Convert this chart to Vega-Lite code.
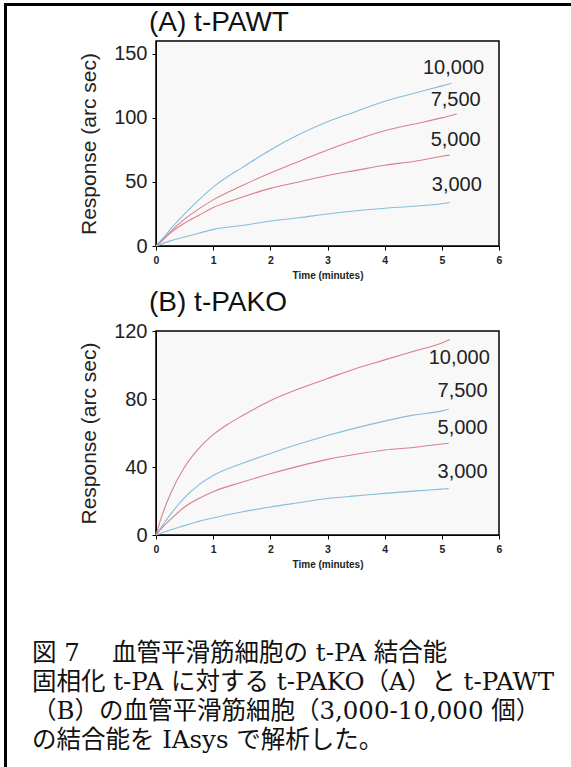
{
  "$schema": "https://vega.github.io/schema/vega-lite/v6.json",
  "padding": {"left": 4, "top": 3, "right": 0, "bottom": 0},
  "background": "white",
  "spacing": 0,
  "config": {
    "font": "Liberation Sans",
    "view": {"stroke": "black", "strokeWidth": 1.5},
    "axis": {"grid": false, "domainColor": "black", "tickColor": "black", "labelColor": "#222", "titleColor": "#222", "labelOverlap": false, "labelFlush": false}
  },
  "datasets": {
    "curves": [
      {"panel":"A","cells":"10,000","t":0,"v":0},{"panel":"A","cells":"10,000","t":0.1,"v":5},{"panel":"A","cells":"10,000","t":0.25,"v":13},{"panel":"A","cells":"10,000","t":0.5,"v":25},{"panel":"A","cells":"10,000","t":0.75,"v":36},{"panel":"A","cells":"10,000","t":1,"v":46},{"panel":"A","cells":"10,000","t":1.25,"v":54},{"panel":"A","cells":"10,000","t":1.5,"v":61},{"panel":"A","cells":"10,000","t":2,"v":75},{"panel":"A","cells":"10,000","t":2.5,"v":87},{"panel":"A","cells":"10,000","t":3,"v":97},{"panel":"A","cells":"10,000","t":3.5,"v":105},{"panel":"A","cells":"10,000","t":4,"v":113},{"panel":"A","cells":"10,000","t":4.5,"v":119},{"panel":"A","cells":"10,000","t":5,"v":125},{"panel":"A","cells":"10,000","t":5.17,"v":127},
      {"panel":"A","cells":"7,500","t":0,"v":0},{"panel":"A","cells":"7,500","t":0.1,"v":4},{"panel":"A","cells":"7,500","t":0.25,"v":11},{"panel":"A","cells":"7,500","t":0.5,"v":21},{"panel":"A","cells":"7,500","t":0.75,"v":29},{"panel":"A","cells":"7,500","t":1,"v":36},{"panel":"A","cells":"7,500","t":1.5,"v":47},{"panel":"A","cells":"7,500","t":2,"v":57},{"panel":"A","cells":"7,500","t":2.5,"v":66},{"panel":"A","cells":"7,500","t":3,"v":75},{"panel":"A","cells":"7,500","t":3.5,"v":83},{"panel":"A","cells":"7,500","t":4,"v":90},{"panel":"A","cells":"7,500","t":4.5,"v":95},{"panel":"A","cells":"7,500","t":5,"v":100},{"panel":"A","cells":"7,500","t":5.26,"v":103},
      {"panel":"A","cells":"5,000","t":0,"v":0},{"panel":"A","cells":"5,000","t":0.1,"v":4},{"panel":"A","cells":"5,000","t":0.25,"v":10},{"panel":"A","cells":"5,000","t":0.5,"v":18},{"panel":"A","cells":"5,000","t":0.75,"v":24},{"panel":"A","cells":"5,000","t":1,"v":30},{"panel":"A","cells":"5,000","t":1.5,"v":38},{"panel":"A","cells":"5,000","t":2,"v":45},{"panel":"A","cells":"5,000","t":2.5,"v":50},{"panel":"A","cells":"5,000","t":3,"v":55},{"panel":"A","cells":"5,000","t":3.5,"v":59},{"panel":"A","cells":"5,000","t":4,"v":63},{"panel":"A","cells":"5,000","t":4.5,"v":66},{"panel":"A","cells":"5,000","t":5,"v":70},{"panel":"A","cells":"5,000","t":5.14,"v":71},
      {"panel":"A","cells":"3,000","t":0,"v":0},{"panel":"A","cells":"3,000","t":0.25,"v":4},{"panel":"A","cells":"3,000","t":0.5,"v":7},{"panel":"A","cells":"3,000","t":0.75,"v":10},{"panel":"A","cells":"3,000","t":1,"v":13},{"panel":"A","cells":"3,000","t":1.5,"v":16},{"panel":"A","cells":"3,000","t":2,"v":19.5},{"panel":"A","cells":"3,000","t":2.5,"v":22},{"panel":"A","cells":"3,000","t":3,"v":25},{"panel":"A","cells":"3,000","t":3.5,"v":27.5},{"panel":"A","cells":"3,000","t":4,"v":29.5},{"panel":"A","cells":"3,000","t":4.5,"v":31},{"panel":"A","cells":"3,000","t":5,"v":33},{"panel":"A","cells":"3,000","t":5.14,"v":34},
      {"panel":"B","cells":"10,000","t":0,"v":0},{"panel":"B","cells":"10,000","t":0.1,"v":11},{"panel":"B","cells":"10,000","t":0.25,"v":24},{"panel":"B","cells":"10,000","t":0.5,"v":40},{"panel":"B","cells":"10,000","t":0.75,"v":51},{"panel":"B","cells":"10,000","t":1,"v":59},{"panel":"B","cells":"10,000","t":1.25,"v":65},{"panel":"B","cells":"10,000","t":1.5,"v":70},{"panel":"B","cells":"10,000","t":2,"v":79},{"panel":"B","cells":"10,000","t":2.5,"v":86},{"panel":"B","cells":"10,000","t":3,"v":92},{"panel":"B","cells":"10,000","t":3.5,"v":98},{"panel":"B","cells":"10,000","t":4,"v":103},{"panel":"B","cells":"10,000","t":4.5,"v":108},{"panel":"B","cells":"10,000","t":5,"v":113},{"panel":"B","cells":"10,000","t":5.14,"v":115},
      {"panel":"B","cells":"7,500","t":0,"v":0},{"panel":"B","cells":"7,500","t":0.1,"v":5},{"panel":"B","cells":"7,500","t":0.25,"v":12},{"panel":"B","cells":"7,500","t":0.5,"v":22},{"panel":"B","cells":"7,500","t":0.75,"v":29.5},{"panel":"B","cells":"7,500","t":1,"v":35},{"panel":"B","cells":"7,500","t":1.5,"v":42},{"panel":"B","cells":"7,500","t":2,"v":48},{"panel":"B","cells":"7,500","t":2.5,"v":53.5},{"panel":"B","cells":"7,500","t":3,"v":58.5},{"panel":"B","cells":"7,500","t":3.5,"v":63},{"panel":"B","cells":"7,500","t":4,"v":67},{"panel":"B","cells":"7,500","t":4.5,"v":70.5},{"panel":"B","cells":"7,500","t":5,"v":73},{"panel":"B","cells":"7,500","t":5.12,"v":74},
      {"panel":"B","cells":"5,000","t":0,"v":0},{"panel":"B","cells":"5,000","t":0.1,"v":4},{"panel":"B","cells":"5,000","t":0.25,"v":9},{"panel":"B","cells":"5,000","t":0.5,"v":16.5},{"panel":"B","cells":"5,000","t":0.75,"v":21.5},{"panel":"B","cells":"5,000","t":1,"v":25.5},{"panel":"B","cells":"5,000","t":1.5,"v":31},{"panel":"B","cells":"5,000","t":2,"v":36},{"panel":"B","cells":"5,000","t":2.5,"v":40.5},{"panel":"B","cells":"5,000","t":3,"v":44.5},{"panel":"B","cells":"5,000","t":3.5,"v":47.5},{"panel":"B","cells":"5,000","t":4,"v":50},{"panel":"B","cells":"5,000","t":4.5,"v":51.5},{"panel":"B","cells":"5,000","t":5,"v":53.5},{"panel":"B","cells":"5,000","t":5.12,"v":54},
      {"panel":"B","cells":"3,000","t":0,"v":0},{"panel":"B","cells":"3,000","t":0.25,"v":3},{"panel":"B","cells":"3,000","t":0.5,"v":5.5},{"panel":"B","cells":"3,000","t":0.75,"v":8},{"panel":"B","cells":"3,000","t":1,"v":10},{"panel":"B","cells":"3,000","t":1.5,"v":13.5},{"panel":"B","cells":"3,000","t":2,"v":16.5},{"panel":"B","cells":"3,000","t":2.5,"v":19},{"panel":"B","cells":"3,000","t":3,"v":21.5},{"panel":"B","cells":"3,000","t":3.5,"v":23},{"panel":"B","cells":"3,000","t":4,"v":24.5},{"panel":"B","cells":"3,000","t":4.5,"v":25.8},{"panel":"B","cells":"3,000","t":5,"v":27},{"panel":"B","cells":"3,000","t":5.12,"v":27.3}
    ],
    "labels": [
      {"panel":"A","cells":"10,000","t":5.74,"v":139},{"panel":"A","cells":"7,500","t":5.68,"v":114},{"panel":"A","cells":"5,000","t":5.68,"v":83},{"panel":"A","cells":"3,000","t":5.7,"v":48},
      {"panel":"B","cells":"10,000","t":5.84,"v":104},{"panel":"B","cells":"7,500","t":5.8,"v":85},{"panel":"B","cells":"5,000","t":5.8,"v":63},{"panel":"B","cells":"3,000","t":5.8,"v":37}
    ]
  },
  "vconcat": [
    {"width": 620, "height": 1, "data": {"values": []}, "mark": "point", "view": {"stroke": "black", "strokeWidth": 2}},
    {
      "spacing": 24,
      "hconcat": [
        {"width": 1, "height": 820, "data": {"values": []}, "mark": "point", "view": {"stroke": "black", "strokeWidth": 2}},
        {
          "spacing": 0,
          "resolve": {"scale": {"color": "independent"}},
          "title": {
            "text": ["図 7　 血管平滑筋細胞の t-PA 結合能", "固相化 t-PA に対する t-PAKO（A）と t-PAWT", "（B）の血管平滑筋細胞（3,000-10,000 個）", "の結合能を IAsys で解析した。"],
            "orient": "bottom", "anchor": "start", "font": "DejaVu Serif, Noto Sans CJK JP", "fontSize": 24.5, "fontWeight": "normal", "lineHeight": 29, "offset": 72, "dx": -46, "color": "#111"
          },
          "vconcat": [
            {"width": 10, "height": 1, "data": {"values": []}, "mark": "point", "view": {"stroke": null}},
            {
              "width": 343, "height": 205,
              "view": {"fill": "#f8f8f8"},
              "title": {"text": "(A) t-PAWT", "anchor": "start", "frame": "group", "fontSize": 28, "fontWeight": "normal", "dx": -7, "offset": 4, "color": "#111"},
              "layer": [
                {
                  "data": {"name": "curves"},
                  "transform": [{"filter": "datum.panel === 'A'"}],
                  "mark": {"type": "line", "strokeWidth": 1.1, "interpolate": "monotone"},
                  "encoding": {
                    "x": {"field": "t", "type": "quantitative", "scale": {"domain": [0, 6]},
                      "axis": {"title": "Time (minutes)", "values": [0,0.5,1,1.5,2,2.5,3,3.5,4,4.5,5,5.5,6], "labelExpr": "datum.value % 1 === 0 ? '' + datum.value : ''", "labelFontWeight": "bold", "labelFontSize": 10.5, "titleFontSize": 10, "titleFontWeight": "bold", "tickSize": 4, "labelPadding": 5, "titlePadding": 5}},
                    "y": {"field": "v", "type": "quantitative", "scale": {"domain": [0, 150]},
                      "axis": {"title": "Response (arc sec)", "values": [0,12.5,25,37.5,50,62.5,75,87.5,100,112.5,125,137.5,150], "labelExpr": "datum.value % 50 === 0 ? datum.label : ''", "labelFontSize": 20, "titleFontSize": 21, "titleFontWeight": "normal", "tickSize": 4, "labelPadding": 5, "titlePadding": 14}},
                    "color": {"field": "cells", "type": "nominal", "scale": {"domain": ["10,000","7,500","5,000","3,000"], "range": ["#86bedb","#d9808c","#d9808c","#86bedb"]}, "legend": null}
                  }
                },
                {
                  "data": {"name": "labels"},
                  "transform": [{"filter": "datum.panel === 'A'"}],
                  "mark": {"type": "text", "align": "right", "baseline": "middle", "fontSize": 20, "color": "#222"},
                  "encoding": {
                    "x": {"field": "t", "type": "quantitative"},
                    "y": {"field": "v", "type": "quantitative"},
                    "text": {"field": "cells"}
                  }
                }
              ]
            },
            {"width": 10, "height": 6, "data": {"values": []}, "mark": "point", "view": {"stroke": null}},
            {
              "width": 343, "height": 204,
              "view": {"fill": "#f8f8f8"},
              "title": {"text": "(B) t-PAKO", "anchor": "start", "frame": "group", "fontSize": 28, "fontWeight": "normal", "dx": -7, "offset": 4, "color": "#111"},
              "layer": [
                {
                  "data": {"name": "curves"},
                  "transform": [{"filter": "datum.panel === 'B'"}],
                  "mark": {"type": "line", "strokeWidth": 1.1, "interpolate": "monotone"},
                  "encoding": {
                    "x": {"field": "t", "type": "quantitative", "scale": {"domain": [0, 6]},
                      "axis": {"title": "Time (minutes)", "values": [0,0.5,1,1.5,2,2.5,3,3.5,4,4.5,5,5.5,6], "labelExpr": "datum.value % 1 === 0 ? '' + datum.value : ''", "labelFontWeight": "bold", "labelFontSize": 10.5, "titleFontSize": 10, "titleFontWeight": "bold", "tickSize": 4, "labelPadding": 5, "titlePadding": 5}},
                    "y": {"field": "v", "type": "quantitative", "scale": {"domain": [0, 120]},
                      "axis": {"title": "Response (arc sec)", "values": [0,5,10,15,20,25,30,35,40,45,50,55,60,65,70,75,80,85,90,95,100,105,110,115,120], "labelExpr": "datum.value % 40 === 0 ? datum.label : ''", "labelFontSize": 20, "titleFontSize": 21, "titleFontWeight": "normal", "tickSize": 4, "labelPadding": 5, "titlePadding": 14}},
                    "color": {"field": "cells", "type": "nominal", "scale": {"domain": ["10,000","7,500","5,000","3,000"], "range": ["#d9808c","#86bedb","#d9808c","#86bedb"]}, "legend": null}
                  }
                },
                {
                  "data": {"name": "labels"},
                  "transform": [{"filter": "datum.panel === 'B'"}],
                  "mark": {"type": "text", "align": "right", "baseline": "middle", "fontSize": 20, "color": "#222"},
                  "encoding": {
                    "x": {"field": "t", "type": "quantitative"},
                    "y": {"field": "v", "type": "quantitative"},
                    "text": {"field": "cells"}
                  }
                }
              ]
            }
          ]
        }
      ]
    }
  ]
}
